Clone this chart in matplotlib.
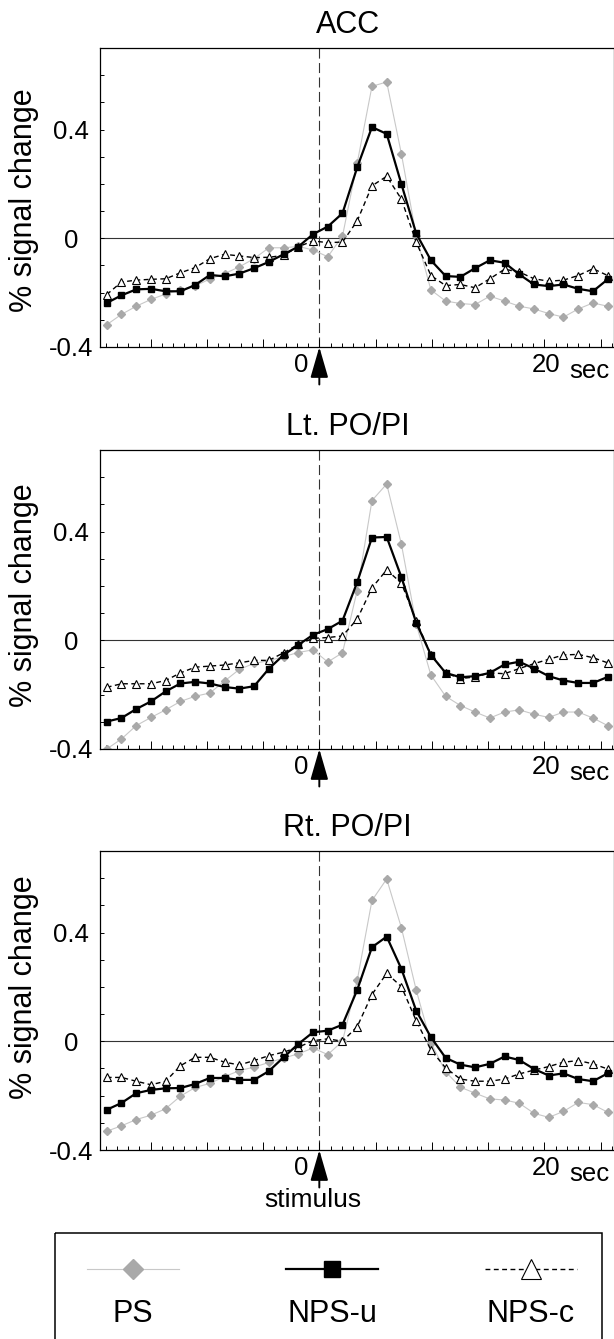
import numpy as np
import matplotlib
matplotlib.use('Agg')
import matplotlib.pyplot as plt
from matplotlib.patches import Rectangle

plt.rcParams['font.family'] = ['Liberation Sans', 'DejaVu Sans']

# sample times relative to stimulus onset (sec)
time = np.round(-18.9 + 1.31 * np.arange(35), 2)

regions = ['ACC', 'Lt. PO/PI', 'Rt. PO/PI']
series_names = ['PS', 'NPS-u', 'NPS-c']

acc_ps = [-0.318, -0.28, -0.25, -0.225, -0.205, -0.19, -0.175, -0.15, -0.13, -0.105,
          -0.075, -0.035, -0.035, -0.03, -0.043, -0.068, 0.008, 0.277, 0.559, 0.575,
          0.31, 0.01, -0.19, -0.231, -0.24, -0.244, -0.213, -0.231, -0.25, -0.26,
          -0.277, -0.29, -0.26, -0.238, -0.25]
acc_npsu = [-0.238, -0.21, -0.188, -0.186, -0.195, -0.195, -0.172, -0.135, -0.14, -0.13,
            -0.11, -0.087, -0.059, -0.031, 0.015, 0.043, 0.092, 0.261, 0.409, 0.384,
            0.199, 0.018, -0.081, -0.139, -0.142, -0.11, -0.081, -0.09, -0.133, -0.17,
            -0.176, -0.17, -0.186, -0.195, -0.151]
acc_npsc = [-0.207, -0.161, -0.154, -0.151, -0.149, -0.127, -0.108, -0.075, -0.059, -0.065,
            -0.071, -0.07, -0.063, -0.031, -0.01, -0.016, -0.014, 0.064, 0.193, 0.228,
            0.144, -0.014, -0.137, -0.174, -0.17, -0.182, -0.149, -0.114, -0.124, -0.149,
            -0.158, -0.154, -0.137, -0.112, -0.137]

lt_ps = [-0.40, -0.363, -0.314, -0.284, -0.256, -0.225, -0.206, -0.194, -0.15, -0.107,
         -0.085, -0.075, -0.06, -0.045, -0.035, -0.08, -0.046, 0.183, 0.514, 0.575,
         0.353, 0.06, -0.128, -0.206, -0.24, -0.264, -0.286, -0.264, -0.256, -0.272,
         -0.284, -0.264, -0.264, -0.286, -0.314]
lt_npsu = [-0.299, -0.286, -0.253, -0.225, -0.188, -0.159, -0.153, -0.159, -0.172, -0.178,
           -0.169, -0.105, -0.054, -0.017, 0.02, 0.041, 0.072, 0.214, 0.378, 0.38,
           0.232, 0.065, -0.054, -0.12, -0.136, -0.132, -0.12, -0.089, -0.079, -0.104,
           -0.132, -0.148, -0.157, -0.157, -0.135]
lt_npsc = [-0.173, -0.16, -0.16, -0.16, -0.148, -0.12, -0.099, -0.095, -0.091, -0.083,
           -0.074, -0.074, -0.046, -0.015, 0.007, 0.01, 0.016, 0.078, 0.193, 0.259,
           0.21, 0.072, -0.054, -0.12, -0.141, -0.135, -0.12, -0.123, -0.104, -0.086,
           -0.07, -0.054, -0.052, -0.064, -0.083]

rt_ps = [-0.331, -0.311, -0.288, -0.272, -0.248, -0.202, -0.17, -0.155, -0.13, -0.108,
         -0.095, -0.078, -0.062, -0.046, -0.025, -0.049, 0.0, 0.224, 0.518, 0.597,
         0.417, 0.189, -0.005, -0.112, -0.169, -0.191, -0.212, -0.216, -0.228, -0.265,
         -0.28, -0.258, -0.225, -0.233, -0.261]
rt_npsu = [-0.252, -0.227, -0.191, -0.179, -0.173, -0.172, -0.157, -0.135, -0.135, -0.142,
           -0.142, -0.11, -0.059, -0.01, 0.033, 0.039, 0.061, 0.189, 0.346, 0.385,
           0.266, 0.113, 0.015, -0.061, -0.086, -0.096, -0.083, -0.056, -0.069, -0.102,
           -0.126, -0.118, -0.139, -0.147, -0.118]
rt_npsc = [-0.133, -0.133, -0.147, -0.16, -0.147, -0.09, -0.059, -0.059, -0.077, -0.087,
           -0.071, -0.053, -0.04, -0.022, 0.002, 0.009, 0.0, 0.054, 0.172, 0.25,
           0.201, 0.076, -0.032, -0.098, -0.139, -0.147, -0.147, -0.139, -0.12, -0.106,
           -0.093, -0.077, -0.071, -0.083, -0.102]

data = [(acc_ps, acc_npsu, acc_npsc),
        (lt_ps, lt_npsu, lt_npsc),
        (rt_ps, rt_npsu, rt_npsc)]

W, H = 614, 1339
fig = plt.figure(figsize=(W / 100, H / 100), dpi=100)

ps_style = dict(color='#c8c8c8', lw=0.8, marker='D', ms=4, mfc='#a9a9a9', mec='#a9a9a9')
npsu_style = dict(color='black', lw=1.6, marker='s', ms=5, mfc='black', mec='black')
npsc_style = dict(color='black', lw=1.0, ls=(0, (3.5, 2.5)), marker='^', ms=6,
                  mfc='white', mec='black', mew=0.8)

tops = [48, 450, 851]
ylabel_y = [0.49, 0.515, 0.545]
ax_h = 299
left, right = 100, 614

for i, (name, (ps, npsu, npsc)) in enumerate(zip(regions, data)):
    ax = fig.add_axes([left / W, 1 - (tops[i] + ax_h) / H, (right - left) / W, ax_h / H])
    ax.axhline(0, color='#333333', lw=0.8, zorder=1)
    ax.axvline(0, color='#333333', lw=0.8, dashes=(9, 4), zorder=1)
    ax.plot(time, ps, zorder=2, **ps_style)
    ax.plot(time, npsc, zorder=3, **npsc_style)
    ax.plot(time, npsu, zorder=4, **npsu_style)

    ax.set_xlim(-19.5, 26.2)
    ax.set_ylim(-0.4, 0.7)
    ax.set_xticks(np.arange(-15, 26, 5))
    ax.set_xticks(np.arange(-19, 27, 1), minor=True)
    ax.set_xticklabels([])
    yt = np.round(np.arange(-0.4, 0.61, 0.1), 1)
    ax.set_yticks(yt)
    ax.set_yticklabels(['-0.4' if v == -0.4 else '0' if v == 0 else '0.4' if v == 0.4 else ''
                        for v in yt], fontsize=18.5)
    for lab in ax.get_yticklabels():
        lab.set_horizontalalignment('center')
    ax.tick_params(axis='y', direction='in', length=3, width=0.7, pad=21)
    ax.tick_params(axis='x', which='major', direction='in', length=6, width=0.7)
    ax.tick_params(axis='x', which='minor', direction='in', length=3, width=0.7)
    for s in ax.spines.values():
        s.set_linewidth(0.9)

    ax.text(0.482, 1 + 23 / ax_h, name, transform=ax.transAxes, ha='center', va='center',
            fontsize=22)
    ax.set_ylabel('% signal change', fontsize=22)
    ax.yaxis.set_label_coords(-0.118, ylabel_y[i])

    # x labels and stimulus arrow
    ax.annotate('0', xy=(0, 0), xycoords=('data', 'axes fraction'), xytext=(-13, -18),
                textcoords='offset points', ha='center', va='baseline', fontsize=18.5)
    ax.annotate('20', xy=(20, 0), xycoords=('data', 'axes fraction'), xytext=(1, -18),
                textcoords='offset points', ha='center', va='baseline', fontsize=18.5)
    ax.annotate('sec', xy=(20, 0), xycoords=('data', 'axes fraction'), xytext=(32.5, -22),
                textcoords='offset points', ha='center', va='baseline', fontsize=18.5)
    ax.annotate('', xy=(0, 0), xycoords=('data', 'axes fraction'), xytext=(0, -27),
                textcoords='offset points',
                arrowprops=dict(arrowstyle='-|>,head_length=1.9,head_width=0.55',
                                mutation_scale=10, color='black', lw=1.4,
                                shrinkA=0, shrinkB=0))
    if i == 2:
        ax.annotate('stimulus', xy=(0, 0), xycoords=('data', 'axes fraction'),
                    xytext=(-4.5, -41), textcoords='offset points', ha='center',
                    va='baseline', fontsize=19)

# legend box drawn in pixel space
lg = fig.add_axes([0, 0, 1, 1])
lg.set_xlim(0, W)
lg.set_ylim(H, 0)
lg.axis('off')
lg.add_patch(Rectangle((55, 1233), 547, 140, fill=False, lw=1.1, ec='black', clip_on=False))
styles = [ps_style, npsu_style, npsc_style]
sizes = [10, 12, 14]
centers = [133, 332, 531]
for nm, st, sz, cx in zip(series_names, styles, sizes, centers):
    st2 = dict(st)
    st2['ms'] = sz
    st2['markevery'] = [1]
    lg.plot([cx - 46, cx, cx + 46], [1269, 1269, 1269], **st2)
    lg.text(cx, 1322, nm, ha='center', va='baseline', fontsize=22)

fig.savefig('out.png', dpi=100)
